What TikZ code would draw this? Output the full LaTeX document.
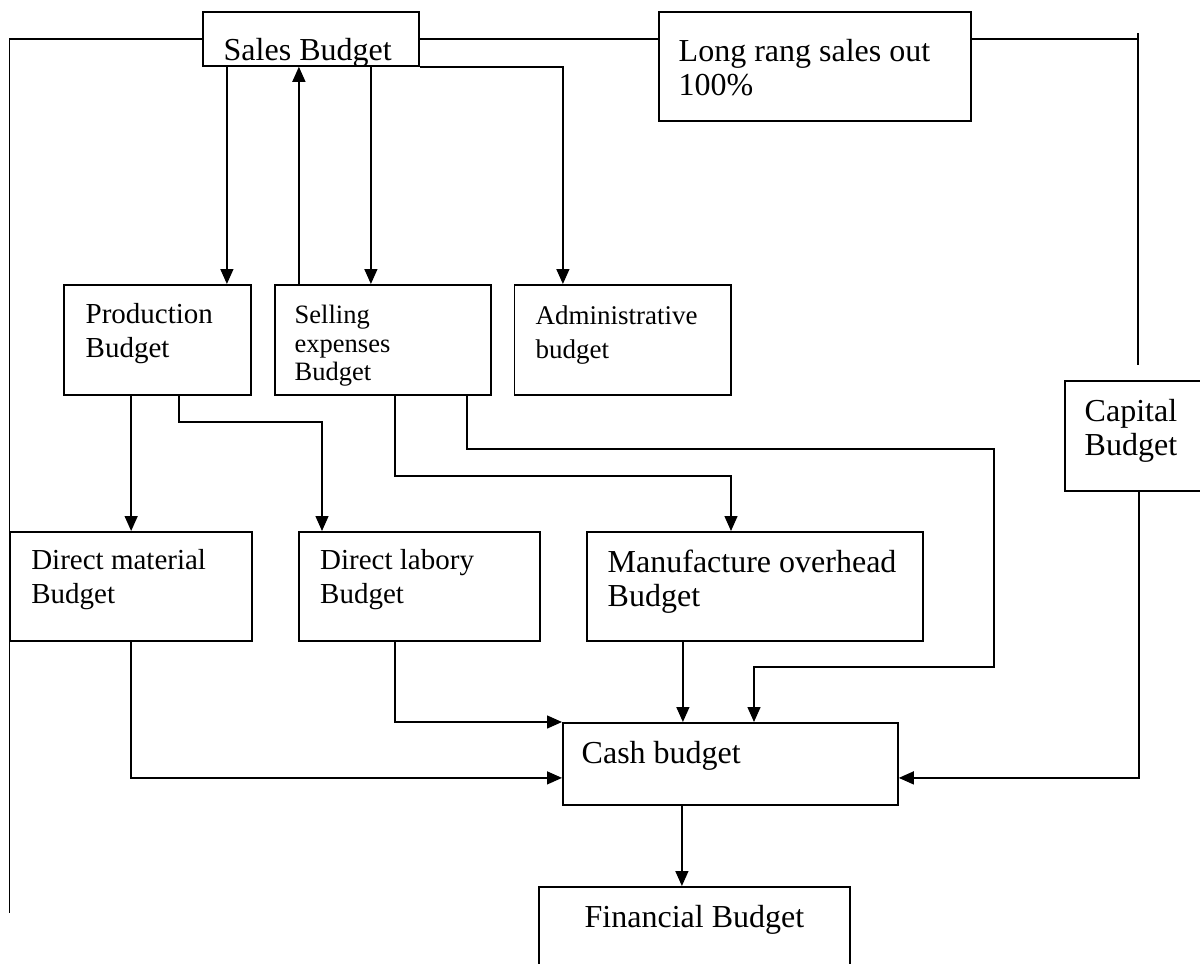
\documentclass[tikz,border=0pt]{standalone}
\usepackage{fontspec}
\setmainfont{Liberation Serif}
\usetikzlibrary{arrows.meta, positioning}

\tikzset{
    bx/.style={draw, line width=1.8pt, inner sep=0pt},
    lbl/.style={inner sep=0pt, align=left},
    big/.style={font=\fontsize{32}{34}\selectfont},
    mid/.style={font=\fontsize{29}{34}\selectfont},
    sml/.style={font=\fontsize{26.5}{28.5}\selectfont},
    arr/.style={-{Triangle[length=15pt,width=13pt]}},
}

\begin{document}
\begin{tikzpicture}[x=1pt, y=-1pt, line width=1.4pt]
    \fill[white] (0,0) rectangle (1200,964);
    \useasboundingbox (0,0) rectangle (1200,964);

    % boxes
    \node[bx, anchor=north west, minimum width=216pt, minimum height=54pt] (sales) at (202,11) {};
    \node[bx, anchor=north west, minimum width=312pt, minimum height=109pt] (longrange) at (658,11) {};
    \node[bx, anchor=north west, minimum width=187pt, minimum height=110pt] (prod) at (63,284) {};
    \node[bx, anchor=north west, minimum width=216pt, minimum height=110pt] (sell) at (274,284) {};
    \node[bx, anchor=north west, minimum width=216.5pt, minimum height=110pt] (admin) at (513.5,284) {};
    \node[bx, anchor=north west, minimum width=148pt, minimum height=110pt] (capital) at (1064,380) {};
    \node[bx, anchor=north west, minimum width=241.5pt, minimum height=109pt] (dmat) at (9.5,531) {};
    \node[bx, anchor=north west, minimum width=241pt, minimum height=109pt] (dlab) at (298,531) {};
    \node[bx, anchor=north west, minimum width=336pt, minimum height=109pt] (mfg) at (586,531) {};
    \node[bx, anchor=north west, minimum width=335pt, minimum height=82pt] (cash) at (562,722) {};
    \node[bx, anchor=north west, minimum width=311pt, minimum height=94pt] (fin) at (538,886) {};

    % texts
    \node[lbl, big, anchor=base west] (sales-t) at (223,60) {Sales Budget};
    \node[lbl, big, anchor=north west] (longrange-t) at (678,38.8) {Long rang sales out\\100\%};
    \node[lbl, mid, anchor=north west] (prod-t) at (85,302.2) {Production\\Budget};
    \node[lbl, sml, anchor=north west] (sell-t) at (294,304.9) {Selling\\expenses\\Budget};
    \node[lbl, font=\fontsize{27}{34}\selectfont, anchor=north west] (admin-t) at (535,304.6) {Administrative\\budget};
    \node[lbl, big, anchor=north west] (capital-t) at (1084,399) {Capital\\Budget};
    \node[lbl, mid, anchor=north west] (dmat-t) at (30.6,548.6) {Direct material\\Budget};
    \node[lbl, mid, anchor=north west] (dlab-t) at (319.5,548.6) {Direct labory\\Budget};
    \node[lbl, big, anchor=north west] (mfg-t) at (607,549) {Manufacture overhead\\Budget};
    \node[lbl, big, anchor=base west] (cash-t) at (581,763) {Cash budget};
    \node[lbl, big, anchor=base west] (fin-t) at (584,927) {Financial Budget};

    % bend points
    \coordinate (leftend) at (9.5,913);
    \coordinate (rtop) at (1138,33);
    \coordinate (rbot) at (1138,365);
    \coordinate (pl) at (322,422);
    \coordinate (sm) at (731,476);
    \coordinate (sc1) at (994,449);
    \coordinate (sc2) at (754,667);

    % top lines
    \draw (sales.west) -| (leftend);
    \draw (sales.east) -- (sales.east -| longrange.west);
    \draw (longrange.east |- sales.east) -- (rtop |- sales.east);
    \draw (rtop) -- (rbot);

    % from sales budget
    \draw[arr] ([xshift=-84pt]sales.south) -- ([xshift=-84pt]sales.south |- prod.north);
    \draw[arr] ([xshift=-84pt]sell.north) -- ([xshift=-84pt]sell.north |- sales.south);
    \draw[arr] ([xshift=60pt]sales.south) -- ([xshift=60pt]sales.south |- sell.north);
    \draw[arr] (sales.south east) -| ([xshift=-59.75pt]admin.north);

    % second row
    \draw[arr] (prod.south -| dmat.north) -- (dmat.north);
    \draw[arr] ([xshift=21.5pt]prod.south) |- (pl) -- (pl |- dlab.north);
    \draw[arr] ([xshift=12pt]sell.south) |- (sm) -- (sm |- mfg.north);
    \draw[arr] ([xshift=84pt]sell.south) |- (sc1) |- (sc2) -- (sc2 |- cash.north);

    % into cash budget
    \draw[arr] (dmat.south) |- ([yshift=-14pt]cash.west);
    \draw[arr] ([xshift=-24.5pt]dlab.south) |- (cash.north west);
    \draw[arr] ([xshift=-72pt]mfg.south) -- ([xshift=-72pt]mfg.south |- cash.north);
    \draw[arr] (capital.south) |- ([yshift=-14pt]cash.east);
    \draw[arr] ([xshift=-48.5pt]cash.south) -- ([xshift=-48.5pt]cash.south |- fin.north);
\end{tikzpicture}
\end{document}
